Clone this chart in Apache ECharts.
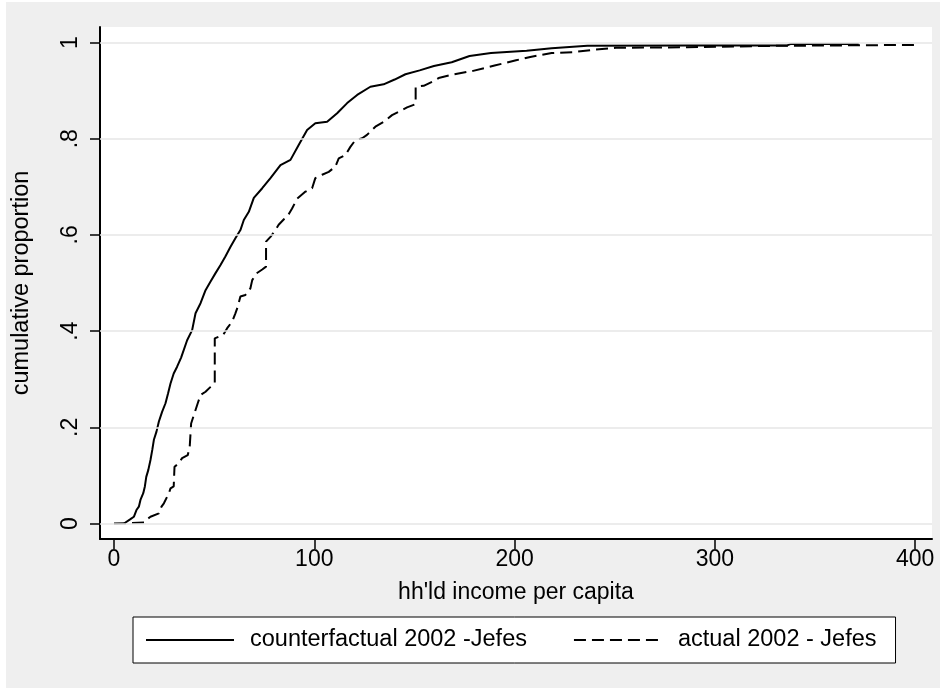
<!DOCTYPE html>
<html>
<head>
<meta charset="utf-8">
<script src="https://cdn.jsdelivr.net/npm/echarts@6/dist/echarts.min.js"></script>
<style>
  html, body { margin: 0; padding: 0; background: #ffffff; }
  #chart { width: 940px; height: 688px; }
</style>
</head>
<body>
<div id="chart"></div>
<script>
// Empirical cumulative distributions of household income per capita
var counterfactualX = [5, 8.2, 9.9, 11.2, 12.4, 13.2, 14.6, 15.4, 16.1, 17.1, 18.2, 19.1, 19.9, 21.2, 22.4, 24.0, 25.7, 27.0, 28.2, 29.8, 31.5, 33.5, 36.5, 39.0, 40.7, 43.2, 45.7, 48.2, 50.6, 53.1, 55.6, 58.1, 60.6, 63.1, 64.8, 67.3, 69.8, 74.0, 78.1, 83.1, 88.1, 92.2, 96.4, 100.5, 106.4, 111.4, 116.4, 121.4, 128.0, 134.6, 140.1, 145.5, 152.6, 159.7, 168.6, 177.5, 188.2, 206.0, 218.5, 236.3, 286.2, 336.1, 338.0, 371.8];
var counterfactualY = [0, 0.009, 0.014, 0.028, 0.035, 0.049, 0.063, 0.077, 0.097, 0.111, 0.132, 0.153, 0.174, 0.191, 0.212, 0.232, 0.250, 0.271, 0.291, 0.312, 0.326, 0.345, 0.381, 0.402, 0.437, 0.458, 0.485, 0.503, 0.520, 0.537, 0.555, 0.575, 0.593, 0.610, 0.631, 0.648, 0.677, 0.697, 0.718, 0.745, 0.756, 0.787, 0.818, 0.832, 0.835, 0.853, 0.874, 0.891, 0.908, 0.913, 0.923, 0.934, 0.942, 0.951, 0.959, 0.972, 0.978, 0.983, 0.988, 0.993, 0.994, 0.994, 0.997, 0.997];

var actualX = [0, 15.0, 16.6, 18.2, 22.4, 23.7, 24.9, 27.4, 28.2, 29.8, 30.2, 32.3, 34.0, 36.8, 37.8, 38.5, 39.0, 40.7, 41.8, 43.2, 45.7, 48.2, 50.3, 50.3, 54.5, 56.5, 59.0, 60.6, 61.8, 63.1, 65.6, 68.1, 69.0, 71.1, 74.0, 75.9, 75.9, 78.1, 80.6, 82.2, 84.7, 87.2, 88.9, 91.4, 95.6, 98.9, 100.5, 103.9, 107.2, 110.5, 112.2, 115.5, 118.0, 120.5, 123.9, 126.3, 130.5, 134.6, 138.8, 143.0, 146.3, 150.6, 150.6, 154.6, 159.7, 162.1, 168.6, 179.3, 190.0, 200.7, 207.8, 218.5, 229.2, 239.9, 250.6, 286.2, 329.0, 400.3];
var actualY = [0, 0.002, 0.009, 0.014, 0.021, 0.035, 0.042, 0.063, 0.073, 0.077, 0.118, 0.125, 0.136, 0.142, 0.160, 0.208, 0.212, 0.236, 0.250, 0.267, 0.274, 0.284, 0.293, 0.385, 0.392, 0.406, 0.420, 0.437, 0.451, 0.472, 0.475, 0.489, 0.506, 0.520, 0.528, 0.534, 0.586, 0.596, 0.610, 0.621, 0.632, 0.643, 0.655, 0.675, 0.690, 0.697, 0.718, 0.725, 0.731, 0.742, 0.759, 0.766, 0.783, 0.797, 0.801, 0.808, 0.825, 0.835, 0.849, 0.858, 0.865, 0.872, 0.908, 0.910, 0.920, 0.926, 0.933, 0.941, 0.952, 0.963, 0.970, 0.978, 0.980, 0.985, 0.989, 0.990, 0.993, 0.995];

var seriesNames = ['counterfactual 2002 -Jefes', 'actual 2002 - Jefes'];
var xTickValues = [0, 100, 200, 300, 400];
var xTickLabels = ['0', '100', '200', '300', '400'];
var yTickValues = [0, 0.2, 0.4, 0.6, 0.8, 1];
var yTickLabels = ['0', '.2', '.4', '.6', '.8', '1'];

function pairs(xs, ys) {
  return xs.map(function (x, i) { return [x, ys[i]]; });
}
function labelFor(values, labels) {
  return function (v) {
    for (var i = 0; i < values.length; i++) {
      if (Math.abs(values[i] - v) < 1e-9) return labels[i];
    }
    return '';
  };
}

var FONT = '"Liberation Sans", Arial, sans-serif';
var chart = echarts.init(document.getElementById('chart'), null, { renderer: 'canvas' });

chart.setOption({
  animation: false,
  backgroundColor: '#efefef',
  textStyle: { fontFamily: FONT, color: '#000' },
  graphic: [
    { type: 'rect', z: -10, shape: { x: 0, y: 0, width: 940, height: 2 }, style: { fill: '#ffffff' } },
    { type: 'rect', z: -10, shape: { x: 0, y: 0, width: 6, height: 688 }, style: { fill: '#ffffff' } }
  ],
  grid: {
    left: 100, right: 8, top: 27, bottom: 149,
    show: true, backgroundColor: '#ffffff', borderWidth: 0,
    containLabel: false
  },
  legend: {
    data: seriesNames,
    orient: 'horizontal',
    left: 133, top: 617,
    padding: [11, 19, 11, 12],
    backgroundColor: '#ffffff',
    borderColor: '#000000', borderWidth: 1, borderRadius: 0,
    itemWidth: 88, itemHeight: 14, itemGap: 46,
    itemStyle: { opacity: 0, borderWidth: 0 },
    textStyle: { fontFamily: FONT, fontSize: 23.5, color: '#000', padding: [0, 0, 0, 11] },
    selectedMode: false
  },
  xAxis: {
    type: 'value',
    min: -7, max: 408.4,
    name: "hh'ld income per capita",
    nameLocation: 'middle',
    nameGap: 42,
    nameTextStyle: { fontFamily: FONT, fontSize: 23, color: '#000' },
    axisLine: { show: true, onZero: false, lineStyle: { color: '#000', width: 2 } },
    axisTick: { show: true, customValues: xTickValues, length: 10, lineStyle: { color: '#000', width: 1.5 } },
    axisLabel: { customValues: xTickValues, formatter: labelFor(xTickValues, xTickLabels), margin: 9, fontFamily: FONT, fontSize: 23, color: '#000' },
    splitLine: { show: false }
  },
  yAxis: {
    type: 'value',
    min: -0.0322, max: 1.0322,
    name: 'cumulative proportion',
    nameLocation: 'middle',
    nameRotate: 90,
    nameGap: 66,
    nameTextStyle: { fontFamily: FONT, fontSize: 23.5, color: '#000' },
    axisLine: { show: true, onZero: false, lineStyle: { color: '#000', width: 2 } },
    axisTick: { show: true, customValues: yTickValues, length: 10, lineStyle: { color: '#000', width: 1.5 } },
    axisLabel: { customValues: yTickValues, formatter: labelFor(yTickValues, yTickLabels), rotate: 90, margin: 18, fontFamily: FONT, fontSize: 23, color: '#000' },
    splitLine: { show: false }
  },
  series: [
    {
      name: 'gridlines',
      type: 'line',
      data: [],
      z: 1,
      silent: true,
      markLine: {
        silent: true,
        symbol: ['none', 'none'],
        label: { show: false },
        lineStyle: { color: '#e6e6e6', width: 1.5, type: 'solid' },
        data: yTickValues.map(function (v) { return { yAxis: v }; })
      }
    },
    {
      name: seriesNames[0],
      type: 'line',
      z: 3,
      symbol: 'none',
      showSymbol: false,
      color: '#000',
      lineStyle: { color: '#000', width: 2, type: 'solid' },
      data: pairs(counterfactualX, counterfactualY)
    },
    {
      name: seriesNames[1],
      type: 'line',
      z: 3,
      symbol: 'none',
      showSymbol: false,
      color: '#000',
      lineStyle: { color: '#000', width: 2, type: [12, 6] },
      data: pairs(actualX, actualY)
    }
  ]
});
</script>
</body>
</html>
